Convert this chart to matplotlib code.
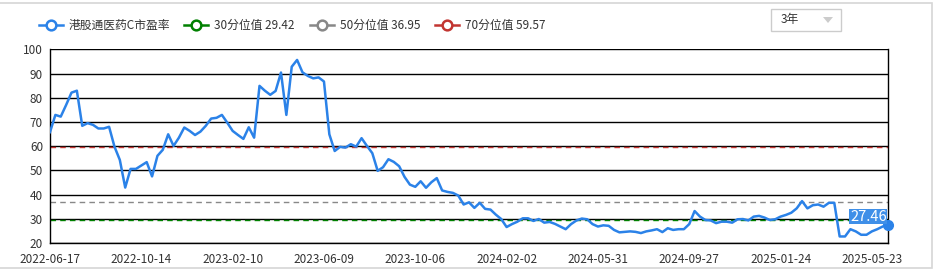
import pandas as pd
import matplotlib
matplotlib.use('Agg')
import matplotlib.pyplot as plt
from matplotlib.lines import Line2D
from matplotlib.patches import Rectangle, Polygon

plt.rcParams['font.family'] = ['Noto Sans CJK SC', 'DejaVu Sans']

# weekly PE values
pe_values = [
    65.8, 72.9, 72.2, 77.0, 82.1, 82.9, 68.4, 69.5, 68.8, 67.3,
    67.3, 68.0, 59.8, 54.3, 42.9, 50.6, 50.6, 52.0, 53.4, 47.5,
    56.0, 58.5, 64.9, 60.1, 63.5, 67.7, 66.3, 64.6, 66.0, 68.4,
    71.4, 71.7, 72.9, 69.7, 66.3, 64.6, 63.0, 67.8, 63.5, 84.9,
    82.9, 81.2, 82.8, 90.4, 72.9, 92.8, 95.6, 90.5, 89.0, 88.0,
    88.4, 86.7, 64.9, 58.0, 59.7, 59.4, 60.8, 59.8, 63.3, 60.1,
    57.1, 49.8, 51.3, 54.6, 53.5, 51.7, 47.3, 44.1, 43.2, 45.5,
    42.8, 45.1, 46.8, 41.7, 41.1, 40.7, 39.6, 35.9, 36.8, 34.5,
    36.6, 34.1, 33.8, 31.7, 29.9, 26.6, 27.8, 28.8, 30.2, 30.2,
    29.1, 29.9, 28.4, 28.7, 27.9, 26.8, 25.7, 27.8, 29.3, 30.1,
    29.8, 27.8, 26.8, 27.3, 27.1, 25.4, 24.4, 24.6, 24.8, 24.6,
    24.1, 24.8, 25.2, 25.7, 24.5, 26.1, 25.4, 25.7, 25.7, 27.8,
    33.2, 30.9, 29.5, 29.3, 28.2, 28.8, 28.8, 28.4, 29.8, 29.9,
    29.3, 30.9, 31.2, 30.5, 29.5, 29.8, 30.9, 31.6, 32.5, 34.3,
    37.3, 34.3, 35.6, 35.9, 35.0, 36.6, 36.6, 22.7, 22.7, 25.7,
    24.8, 23.4, 23.4, 24.8, 25.7, 26.8, 27.46,
]
start_date = '2022-06-17'
dates = pd.date_range(start=start_date, periods=len(pe_values), freq='7D')
date_labels = [d.strftime('%Y-%m-%d') for d in dates]

series_name = '港股通医药C市盈率'
pct_names = ['30分位值', '50分位值', '70分位值']
pct_values = [29.42, 36.95, 59.57]
pct_colors = ['#008000', '#888888', '#c23531']
line_color = '#2b82e8'
y_ticks = [20, 30, 40, 50, 60, 70, 80, 90, 100]
tick_step = 17

W, H = 937, 272
fig = plt.figure(figsize=(W / 100, H / 100), dpi=100)
ax = fig.add_axes([50 / W, 29 / H, 838 / W, 193.7 / H])

x = list(range(len(pe_values)))
for yv in y_ticks:
    ax.axhline(yv, color='black', lw=1.0, zorder=1)
for v, c in zip(pct_values, pct_colors):
    ax.axhline(v, color=c, lw=1.0, ls=(0, (4, 3)), zorder=2)

ax.plot(x, pe_values, color=line_color, lw=1.8, zorder=3)
ax.plot(x[-1], pe_values[-1], 'o', color=line_color, ms=7, clip_on=False, zorder=4)
ax.annotate(f'{pe_values[-1]:.2f}', (x[-1], pe_values[-1]), xytext=(-1, 6),
            textcoords='offset points', ha='right', va='center',
            color='white', fontsize=10.5,
            bbox=dict(boxstyle='square,pad=0.05', fc='#3f8fe8', ec='none'),
            zorder=5)

ax.set_xlim(0, len(pe_values) - 1)
ax.set_ylim(20, 100)
ax.set_yticks(y_ticks)
ax.set_xticks(x[::tick_step])
ax.set_xticklabels(date_labels[::tick_step])
ax.tick_params(axis='both', length=0, labelsize=8.5, colors='#333333')
ax.tick_params(axis='x', pad=7)
ax.tick_params(axis='y', pad=5)
for s in ['left', 'right', 'bottom']:
    ax.spines[s].set_color('black')
    ax.spines[s].set_linewidth(1.0)
ax.spines['top'].set_visible(False)

# legend row
legend_y = 1 - 25 / H
items = [(series_name, line_color, 39)]
for n, v, c, lx in zip(pct_names, pct_values, pct_colors, [184, 310, 435]):
    items.append((f'{n} {v:.2f}', c, lx))
for label, c, lx in items:
    fig.add_artist(Line2D([lx / W, (lx + 24) / W], [legend_y, legend_y],
                          color=c, lw=1.8))
    fig.add_artist(Line2D([(lx + 12) / W], [legend_y], color=c, marker='o', ms=7,
                          mfc='white', mew=1.8, lw=0))
    fig.text((lx + 30) / W, legend_y, label, fontsize=8.5, color='#333333',
             va='center', ha='left')

# dropdown box
fig.add_artist(Rectangle((771 / W, 1 - 31 / H), 70 / W, 22 / H,
                         transform=fig.transFigure, fc='white', ec='#cccccc', lw=1))
fig.text(781 / W, 1 - 20 / H, '3年', fontsize=8.5, color='#333333', va='center')
fig.add_artist(Polygon([[823 / W, 1 - 17 / H], [833 / W, 1 - 17 / H], [828 / W, 1 - 23 / H]],
                       closed=True, transform=fig.transFigure, fc='#cccccc', ec='none'))

# outer panel border
fig.add_artist(Rectangle((-5 / W, 4 / H), 937 / W, 265 / H,
                         transform=fig.transFigure, fill=False, ec='#d6d6d6', lw=1.2))

fig.savefig('out.png', dpi=100)
